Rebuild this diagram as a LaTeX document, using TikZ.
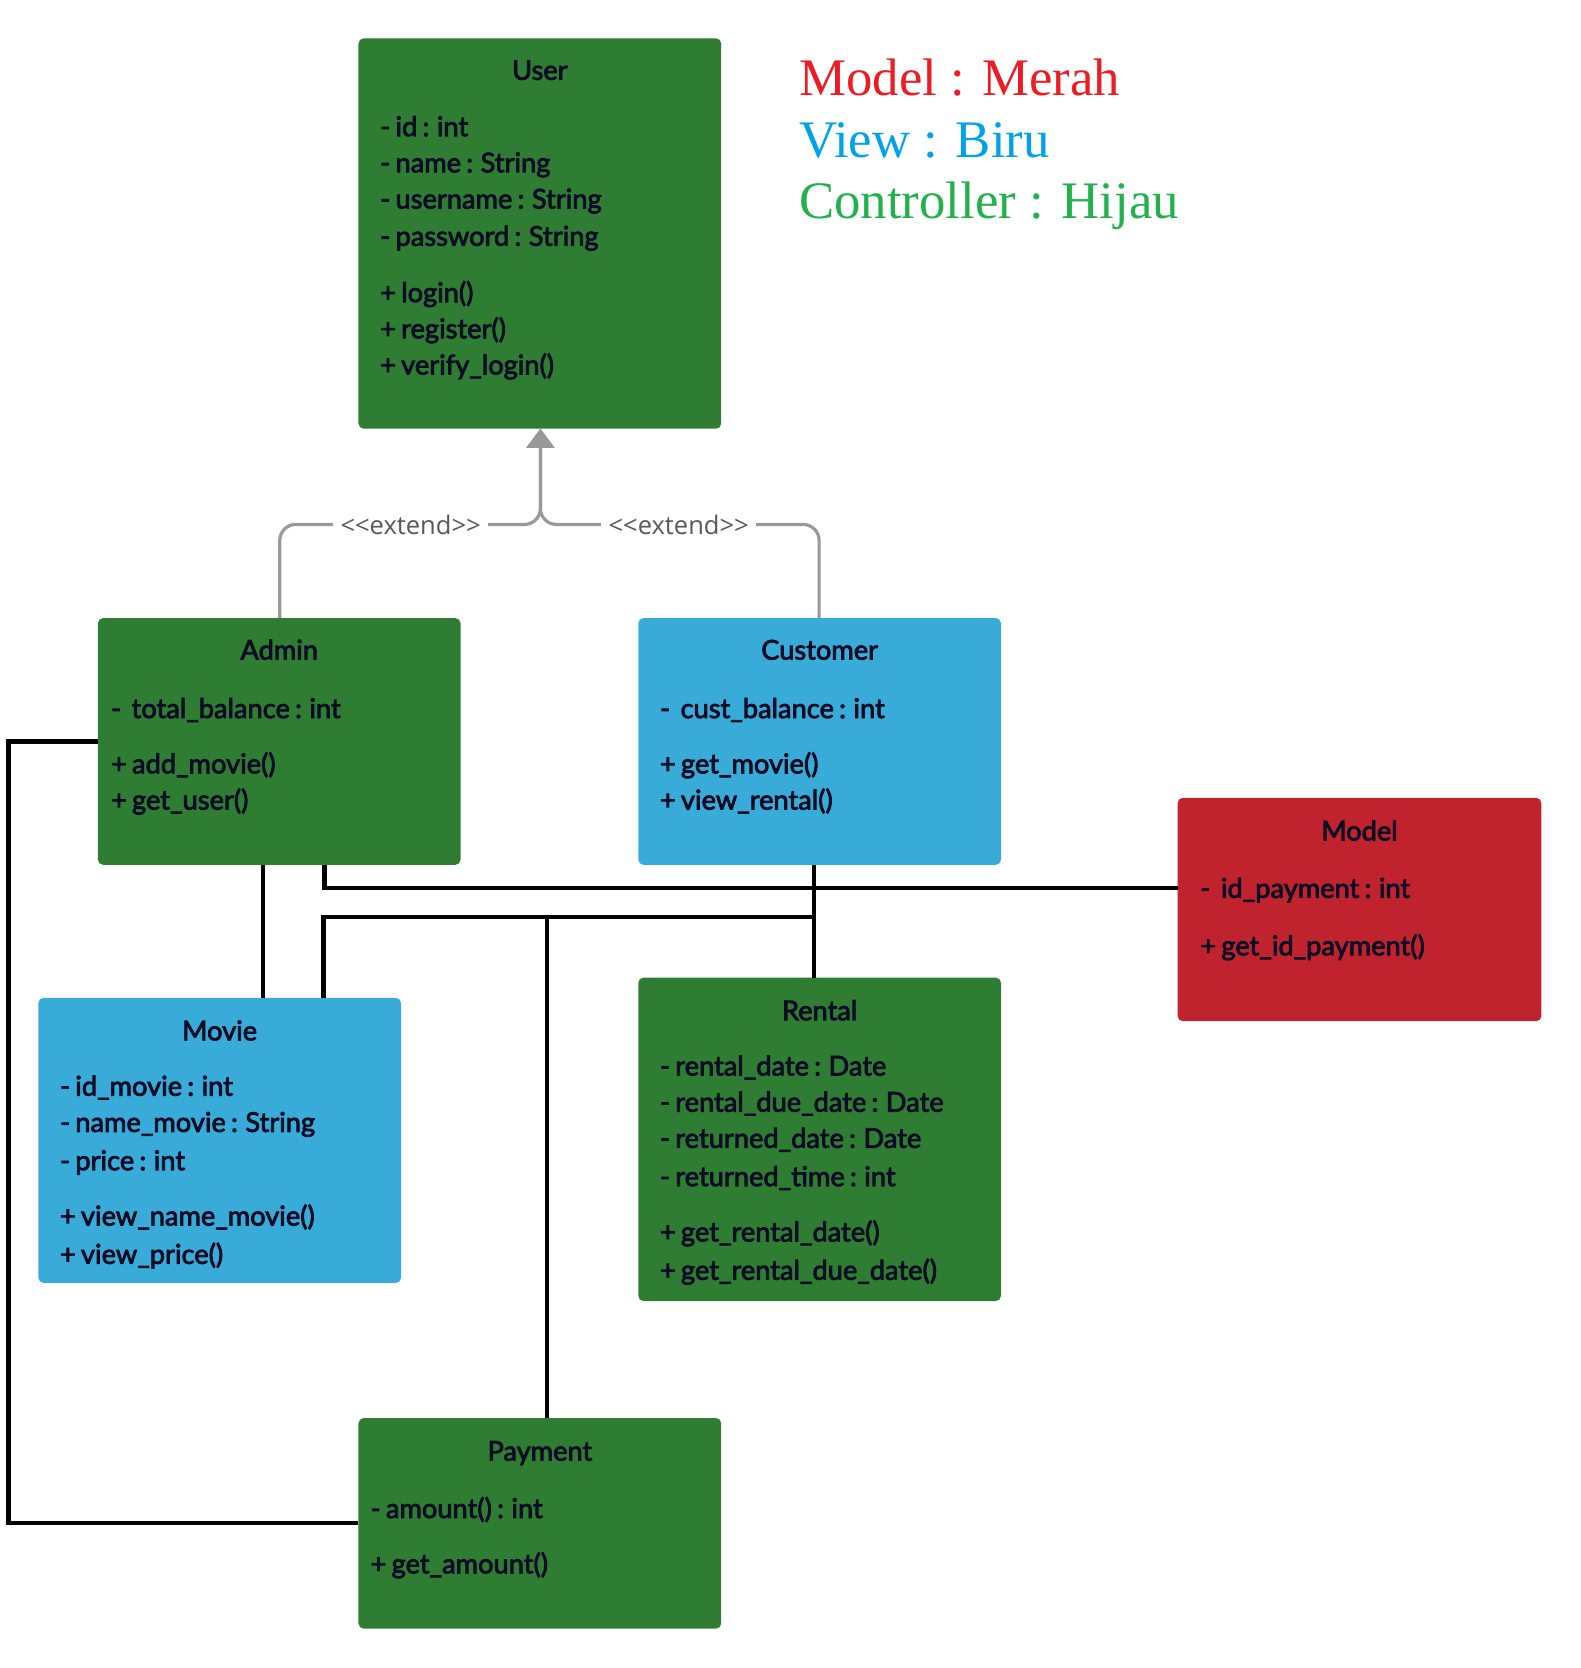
\documentclass[tikz,border=0pt]{standalone}
\usepackage{fontspec}
\setmainfont{Lato}[FakeBold=3, WordSpace=0.75]
\newfontfamily\legendfont{Liberation Serif}
\newfontfamily\extfont{Open Sans}
\usetikzlibrary{arrows.meta}
\definecolor{ugreen}{HTML}{2E7D32}
\definecolor{ublue}{HTML}{38ABD8}
\definecolor{ured}{HTML}{C0232E}
\definecolor{tcol}{RGB}{12,12,36}
\definecolor{lgred}{HTML}{ED1C24}
\definecolor{lgblue}{HTML}{00A2E8}
\definecolor{lggreen}{HTML}{22B14C}
\definecolor{extgray}{HTML}{999999}
\definecolor{exttext}{HTML}{595959}
\tikzset{
  box/.style={rectangle, rounded corners=2.5pt, inner sep=0pt, outer sep=0pt, draw=none},
  txt/.style={anchor=west, inner sep=0pt, text height=9pt, text depth=0pt, font=\fontsize{12.8}{15}\selectfont, text=tcol},
  ttl/.style={txt, anchor=center},
  legend/.style={anchor=west, inner sep=0pt, text height=17pt, text depth=0pt, font=\legendfont\fontsize{24.8}{30}\selectfont},
  conn/.style={draw=black, line width=2pt},
  ext/.style={draw=extgray, line width=1.5pt, rounded corners=7.5pt, -{Triangle[length=9pt,width=13pt]}},
  extlab/.style={fill=white, inner xsep=3.5pt, inner ysep=1pt, text=exttext, font=\extfont\fontsize{12}{14}\selectfont},
}
\begin{document}
\begin{tikzpicture}[x=0.5pt,y=-0.5pt]
\useasboundingbox (0,0) rectangle (1486,1568);
\fill[white] (0,0) rectangle (1486,1568);

% boxes
\node[box, fill=ugreen, minimum width=170.5pt, minimum height=183.5pt] (user) at (507.5,219.5) {};
\node[box, fill=ugreen, minimum width=170.5pt, minimum height=116pt] (admin) at (262.5,697) {};
\node[box, fill=ublue, minimum width=170.5pt, minimum height=116pt] (customer) at (770.5,697) {};
\node[box, fill=ured, minimum width=171pt, minimum height=105pt] (model) at (1278,855) {};
\node[box, fill=ublue, minimum width=170.5pt, minimum height=134pt] (movie) at (206.5,1072) {};
\node[box, fill=ugreen, minimum width=170.5pt, minimum height=152pt] (rental) at (770.5,1071) {};
\node[box, fill=ugreen, minimum width=170.5pt, minimum height=99pt] (payment) at (507.5,1432) {};

% legend
\node[legend, text=lgred] (lg1) at (751,73) {Model : Merah};
\node[legend, text=lgblue] (lg2) at (751,131) {View : Biru};
\node[legend, text=lggreen] (lg3) at (751,188) {Controller : Hijau};

% User text
\node[ttl] (ut) at (507.5,66) {User};
\node[txt] (u1) at (357,119) {- id : int};
\node[txt] (u2) at (357,153) {- name : String};
\node[txt] (u3) at (357,187) {- username : String};
\node[txt] (u4) at (357,222) {- password : String};
\node[txt] (u5) at (357,275) {+ login()};
\node[txt] (u6) at (357,309) {+ register()};
\node[txt] (u7) at (357,343) {+ verify\_login()};

% Admin text
\node[ttl] (at) at (262.5,611) {Admin};
\node[txt] (a1) at (104,666) {-\ \ total\_balance : int};
\node[txt] (a2) at (104,718) {+ add\_movie()};
\node[txt] (a3) at (104,752) {+ get\_user()};

% Customer text
\node[ttl] (ct) at (770.5,611) {Customer};
\node[txt] (c1) at (620,666) {-\ \ cust\_balance : int};
\node[txt] (c2) at (620,718) {+ get\_movie()};
\node[txt] (c3) at (620,752) {+ view\_rental()};

% Model text
\node[ttl] (mt) at (1278,781) {Model};
\node[txt] (m1) at (1128,835) {-\ \ id\_payment : int};
\node[txt] (m2) at (1128,889) {+ get\_id\_payment()};

% Movie text
\node[ttl] (vt) at (206.5,969) {Movie};
\node[txt] (v1) at (56,1021) {- id\_movie : int};
\node[txt] (v2) at (56,1055) {- name\_movie : String};
\node[txt] (v3) at (56,1091) {- price : int};
\node[txt] (v4) at (56,1143) {+ view\_name\_movie()};
\node[txt] (v5) at (56,1179) {+ view\_price()};

% Rental text
\node[ttl] (rt) at (770.5,950) {Rental};
\node[txt] (r1) at (620,1002) {- rental\_date : Date};
\node[txt] (r2) at (620,1036) {- rental\_due\_date : Date};
\node[txt] (r3) at (620,1070) {- returned\_date : Date};
\node[txt] (r4) at (620,1106) {- returned\_time : int};
\node[txt] (r5) at (620,1158) {+ get\_rental\_date()};
\node[txt] (r6) at (620,1194) {+ get\_rental\_due\_date()};

% Payment text
\node[ttl] (pt) at (507.5,1364) {Payment};
\node[txt] (p1) at (348,1418) {- amount() : int};
\node[txt] (p2) at (348,1470) {+ get\_amount()};

% extend connectors
\coordinate (xl) at (263,493);
\coordinate (xr) at (770,493);
\coordinate (xm) at (508,493);
\draw[ext] (admin.north -| xl) -- (xl) -- (xm) -- (user.south -| xm);
\draw[ext] (customer.north -| xr) -- (xr) -- (xm) -- (user.south -| xm);
\node[extlab] (e1) at (386,493) {<<extend>>};
\node[extlab] (e2) at (638,493) {<<extend>>};

% black connectors
\coordinate (lft) at (8,697);
\draw[conn] (admin.west) -- (lft) |- (payment.west);
\coordinate (k0) at (247,0);
\draw[conn] (admin.south -| k0) -- (movie.north -| k0);
\coordinate (k1) at (305,835);
\draw[conn] (admin.south -| k1) |- (model.west |- k1);
\coordinate (k2) at (765,862);
\draw[conn] (customer.south -| k2) -- (rental.north -| k2);
\coordinate (k3) at (304,862);
\draw[conn] (k2) -- (k3) -- (movie.north -| k3);
\coordinate (k4) at (514,862);
\draw[conn] (k4) -- (payment.north -| k4);
\end{tikzpicture}
\end{document}
